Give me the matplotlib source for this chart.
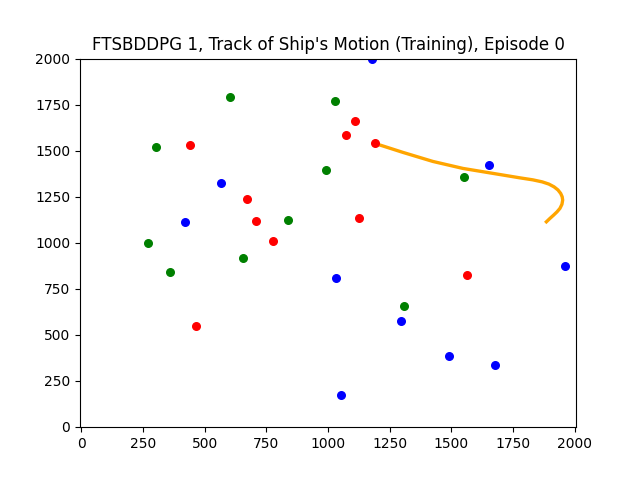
import matplotlib
matplotlib.use("Agg")
import matplotlib.pyplot as plt

blue_x = [1177, 1651, 565, 419, 1959, 1031, 1295, 1489, 1675, 1051]
blue_y = [1997, 1421, 1323, 1111, 872, 807, 573, 383, 334, 171]
green_x = [302, 602, 1027, 991, 1550, 837, 269, 359, 654, 1307]
green_y = [1519, 1790, 1769, 1394, 1356, 1122, 997, 840, 916, 655]
red_x = [440, 1108, 1072, 1189, 671, 707, 1124, 776, 1562, 464]
red_y = [1530, 1660, 1584, 1541, 1236, 1117, 1133, 1008, 823, 546]
track_x = [1190, 1304, 1425, 1547, 1669, 1777, 1830, 1868, 1895, 1916, 1932, 1943, 1949, 1951,
           1948, 1940, 1928, 1914, 1899, 1885]
track_y = [1539, 1490, 1441, 1403, 1376, 1352, 1341, 1330, 1318, 1303, 1286, 1267, 1249, 1231,
           1208, 1186, 1167, 1149, 1131, 1113]
title = "FTSBDDPG 1, Track of Ship's Motion (Training), Episode 0"

fig, ax = plt.subplots(figsize=(6.4, 4.8), dpi=100)
ax.set_position([0.125, 0.11, 0.775, 0.768])
ax.plot(track_x, track_y, color="orange", lw=2.4, zorder=1)
ax.scatter(blue_x, blue_y, color="blue", s=30, zorder=2)
ax.scatter(green_x, green_y, color="green", s=30, zorder=2)
ax.scatter(red_x, red_y, color="red", s=30, zorder=2)
ax.set_xlim(-5, 2005)
ax.set_ylim(-3, 2000)
ax.set_title(title, fontsize=12)
fig.savefig("out.png", dpi=100)
